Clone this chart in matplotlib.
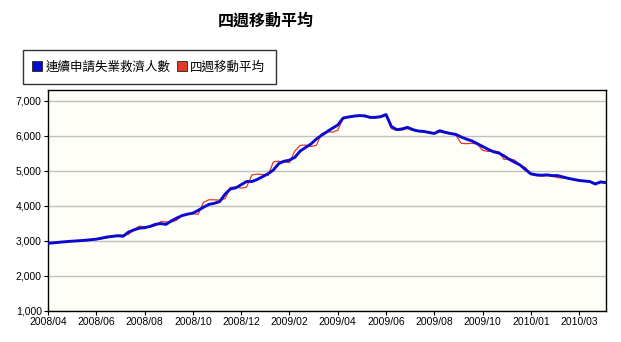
import matplotlib
matplotlib.use("Agg")
import matplotlib.pyplot as plt
from matplotlib.lines import Line2D
from matplotlib.ticker import FuncFormatter, FixedLocator

plt.rcParams['font.family'] = ['Noto Sans CJK TC', 'DejaVu Sans']

title = "四週移動平均"
series_names = ["連續申請失業救濟人數", "四週移動平均"]
tick_labels = ["2008/04", "2008/06", "2008/08", "2008/10", "2008/12", "2009/02",
               "2009/04", "2009/06", "2009/08", "2009/10", "2010/01", "2010/03"]
tick_step = 9  # weeks between labelled ticks

continuing_claims = [
    2930, 2943, 2957, 2972, 2985, 2995, 3005, 3017, 3033, 3048,
    3078, 3110, 3126, 3145, 3130, 3250, 3310, 3360, 3375, 3410,
    3470, 3490, 3470, 3570, 3650, 3720, 3760, 3790, 3870, 3960,
    4040, 4070, 4120, 4330, 4480, 4510, 4600, 4690, 4690, 4750,
    4830, 4910, 5020, 5200, 5270, 5300, 5380, 5560, 5660, 5760,
    5900, 6010, 6110, 6210, 6300, 6500, 6530, 6555, 6570, 6565,
    6520, 6520, 6540, 6600, 6260, 6170, 6190, 6235, 6170, 6130,
    6120, 6090, 6060, 6140, 6095, 6060, 6035, 5960, 5900, 5850,
    5770, 5690, 5610, 5540, 5505, 5420, 5320, 5240, 5160, 5030,
    4910, 4880, 4870, 4880, 4860, 4860, 4820, 4780, 4750, 4720,
    4705, 4690, 4620, 4680, 4660,
]

moving_avg = [
    2920, 2950, 2960, 2965, 2990, 3000, 3000, 3010, 3030, 3040,
    3060, 3080, 3150, 3160, 3170, 3180, 3320, 3420, 3400, 3390,
    3430, 3550, 3540, 3530, 3590, 3730, 3770, 3770, 3760, 4100,
    4170, 4170, 4160, 4200, 4520, 4540, 4500, 4530, 4880, 4900,
    4890, 4860, 5250, 5270, 5250, 5230, 5560, 5720, 5730, 5690,
    5720, 6060, 6110, 6100, 6150, 6480, 6530, 6550, 6560, 6540,
    6510, 6510, 6520, 6580, 6200, 6150, 6160, 6200, 6150, 6120,
    6100, 6080, 6060, 6100, 6080, 6050, 6020, 5780, 5770, 5780,
    5760, 5580, 5550, 5560, 5540, 5320, 5340, 5300, 5150, 5090,
    4900, 4860, 4850, 4860, 4840, 4800, 4790, 4790, 4760, 4720,
    4700, 4680, 4640, 4660, 4650,
]

blue = "#0a0ad0"
red = "#e03a2a"

fig = plt.figure(figsize=(6.21, 3.42), dpi=100)
fig.patch.set_facecolor("white")
ax = fig.add_axes([48 / 621, 1 - 311 / 342, (606 - 48) / 621, (311 - 90) / 342])
ax.set_facecolor("#fffef6")

x = list(range(len(continuing_claims)))
ax.plot(x, moving_avg, color=red, lw=0.9, zorder=3)
ax.plot(x, continuing_claims, color=blue, lw=2.1, zorder=4, solid_joinstyle="round")

ax.set_xlim(0, len(continuing_claims) - 1)
ax.set_ylim(1000, 7300)
ax.set_yticks([1000, 2000, 3000, 4000, 5000, 6000, 7000])
ax.yaxis.set_major_formatter(FuncFormatter(lambda v, p: f"{int(v):,}"))
ax.xaxis.set_major_locator(FixedLocator([i * tick_step for i in range(len(tick_labels))]))
ax.set_xticklabels(tick_labels)
ax.grid(axis="y", color="#c0c0c0", lw=1.0, zorder=0)
ax.set_axisbelow(True)
for s in ax.spines.values():
    s.set_color("black")
    s.set_linewidth(1.0)
ax.tick_params(axis="both", direction="out", length=3, width=0.8, color="black",
               labelsize=7.5, pad=1.5)
for lbl in ax.get_xticklabels() + ax.get_yticklabels():
    lbl.set_fontfamily(["Liberation Sans", "DejaVu Sans"])

fig.text(266 / 621, 1 - 21 / 342, title, ha="center", va="center",
         fontsize=11.5, fontweight="bold")

handles = [
    Line2D([], [], marker="s", linestyle="none", markersize=7,
           markerfacecolor=blue, markeredgecolor="#222222", markeredgewidth=0.6),
    Line2D([], [], marker="s", linestyle="none", markersize=7,
           markerfacecolor=red, markeredgecolor="#222222", markeredgewidth=0.6),
]
leg = fig.legend(handles, series_names, loc="upper left",
                 bbox_to_anchor=(23 / 621, 1 - 50 / 342), ncol=2,
                 fontsize=9, frameon=True, fancybox=False, shadow=False,
                 handlelength=0.6, handletextpad=0.35, columnspacing=0.6,
                 borderpad=0.85, borderaxespad=0)
leg.get_frame().set_edgecolor("black")
leg.get_frame().set_linewidth(1.0)

fig.savefig("out.png", dpi=100, facecolor="white")
